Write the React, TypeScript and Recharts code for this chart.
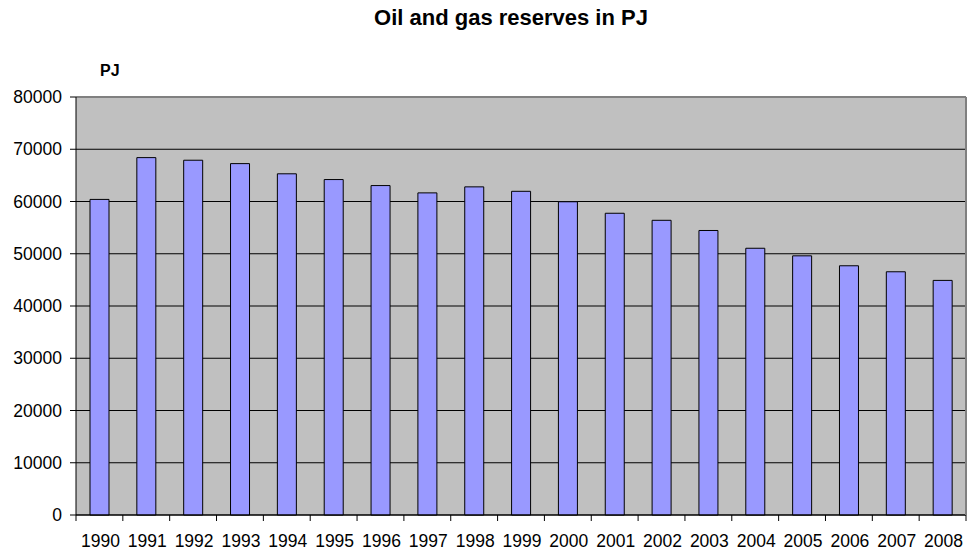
import React from 'react'
import {
    BarChart,
    Bar,
    XAxis,
    YAxis,
    CartesianGrid,
    ReferenceLine
} from 'recharts'

const years = [
    '1990', '1991', '1992', '1993', '1994', '1995', '1996', '1997', '1998', '1999',
    '2000', '2001', '2002', '2003', '2004', '2005', '2006', '2007', '2008'
]

const reserves = [
    60400, 68400, 67900, 67250, 65300, 64200, 63050, 61650, 62800, 61950,
    59950, 57750, 56400, 54450, 51050, 49600, 47700, 46550, 44900
]

const yTicks = [0, 10000, 20000, 30000, 40000, 50000, 60000, 70000, 80000]

const data = years.map((year, i) => ({ year, value: reserves[i] }))

// layout constants
const W = 968
const H = 552
const PLOT_LEFT = 76
const PLOT_RIGHT = 966
const PLOT_BOTTOM = 515
const BAND = (PLOT_RIGHT - PLOT_LEFT) / years.length
const FONT = '"Liberation Sans", Arial, sans-serif'

// year label + tick marks on the category boundaries
const YearTick = (props: any) => {
    const { x, payload, index } = props
    const left = x - BAND / 2
    const right = x + BAND / 2
    return (
        <g>
            <line x1={left} y1={PLOT_BOTTOM} x2={left} y2={PLOT_BOTTOM + 6} stroke="#000" />
            {index === years.length - 1 && (
                <line x1={right} y1={PLOT_BOTTOM} x2={right} y2={PLOT_BOTTOM + 6} stroke="#000" />
            )}
            <text
                x={x + 1}
                y={PLOT_BOTTOM + 32}
                textAnchor="middle"
                fill="#000"
                fontSize={17.5}
                fontFamily={FONT}
            >
                {payload.value}
            </text>
        </g>
    )
}

const App = () => {
    return (
        <div style={{ position: 'absolute', left: 0, top: 0, width: W, height: H, background: '#fff' }}>
            <div
                style={{
                    position: 'absolute',
                    top: 5,
                    left: 0,
                    width: 1022,
                    textAlign: 'center',
                    fontFamily: FONT,
                    fontWeight: 'bold',
                    fontSize: 22
                }}
            >
                Oil and gas reserves in PJ
            </div>
            <div
                style={{
                    position: 'absolute',
                    top: 62,
                    left: 100,
                    fontFamily: FONT,
                    fontWeight: 'bold',
                    fontSize: 16
                }}
            >
                PJ
            </div>
            <BarChart
                width={W}
                height={H}
                data={data}
                margin={{ top: 97, right: 0, bottom: 0, left: 0 }}
                barSize={19}
            >
                <CartesianGrid vertical={false} stroke="#000" fill="#C0C0C0" fillOpacity={1} />
                <ReferenceLine y={80000} stroke="#808080" strokeWidth={2} />
                <XAxis
                    dataKey="year"
                    height={37}
                    axisLine={{ stroke: '#000' }}
                    tickLine={false}
                    tick={<YearTick />}
                    interval={0}
                />
                <YAxis
                    width={PLOT_LEFT}
                    domain={[0, 80000]}
                    ticks={yTicks}
                    interval={0}
                    axisLine={{ stroke: '#000' }}
                    tickLine={{ stroke: '#000' }}
                    tickSize={6}
                    tickMargin={8}
                    tick={{ fill: '#000', fontSize: 17.5, fontFamily: FONT }}
                />
                <YAxis
                    yAxisId="right"
                    orientation="right"
                    width={2}
                    domain={[0, 80000]}
                    tick={false}
                    tickLine={false}
                    axisLine={{ stroke: '#808080', strokeWidth: 2 }}
                />
                <Bar
                    dataKey="value"
                    fill="#9999FF"
                    stroke="#000"
                    strokeWidth={1}
                    isAnimationActive={false}
                />
            </BarChart>
        </div>
    )
}

export default App
